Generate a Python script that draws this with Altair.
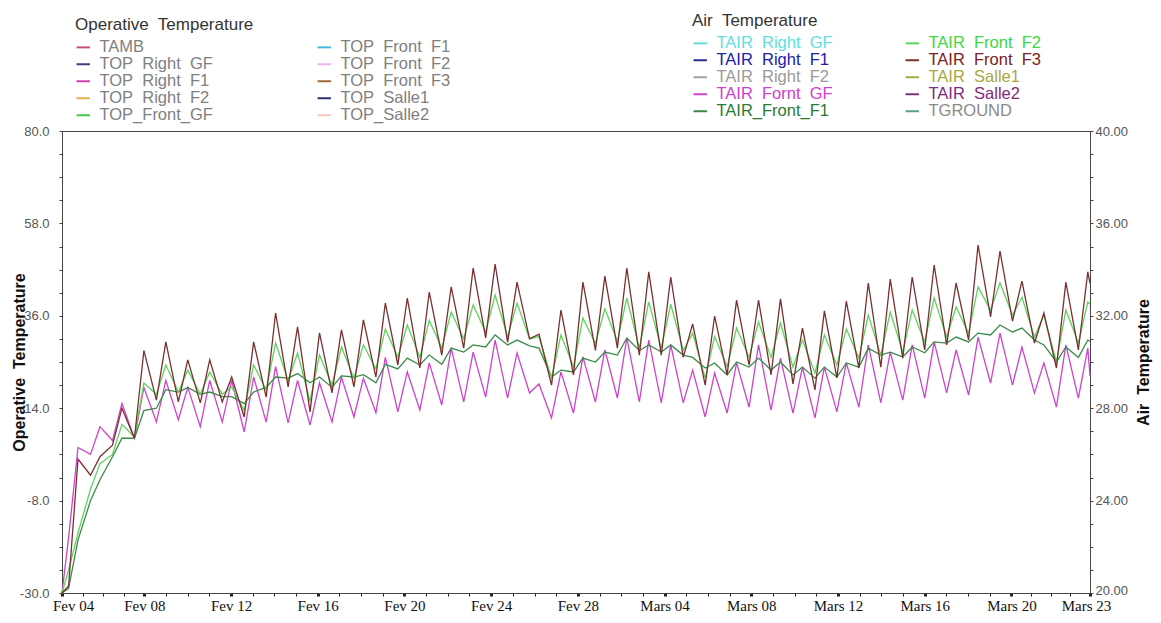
import json
import altair as alt
import pandas as pd

# ---------------- axis ticks / labels ----------------
x_end = 46.83
x_tick_days = [0, 3.75, 7.7, 11.65, 15.6, 19.55, 23.5, 27.45, 31.4, 35.35, 39.3, 43.25, 46.83]
x_tick_labels = ["Fev 04", "Fev 08", "Fev 12", "Fev 16", "Fev 20", "Fev 24", "Fev 28",
                 "Mars 04", "Mars 08", "Mars 12", "Mars 16", "Mars 20", "Mars 23"]
left_ticks = [-30.0, -24.5, -19.0, -13.5, -8.0, -2.5, 3.0, 8.5, 14.0, 19.5, 25.0, 30.5, 36.0,
              41.5, 47.0, 52.5, 58.0, 63.5, 69.0, 74.5, 80.0]
right_ticks = [20, 21, 22, 23, 24, 25, 26, 27, 28, 29, 30, 31, 32, 33, 34, 35, 36, 37, 38, 39, 40]

# minor x ticks: three between each pair of labelled ticks
x_all_ticks = []
for a, b in zip(x_tick_days[:-1], x_tick_days[1:]):
    for j in range(4):
        x_all_ticks.append(round(a + (b - a) * j / 4, 4))
x_all_ticks.append(x_tick_days[-1])

# ---------------- legend entries ----------------
op_names = ["TAMB", "TOP  Right  GF", "TOP  Right  F1", "TOP  Right  F2", "TOP_Front_GF",
            "TOP  Front  F1", "TOP  Front  F2", "TOP  Front  F3", "TOP  Salle1", "TOP_Salle2"]
op_colors = ["#c8506e", "#3c3c82", "#d040b0", "#e8b048", "#48c848",
             "#48b8d8", "#f0b0f0", "#a0683c", "#2c2c78", "#f6c8bc"]

air_names = ["TAIR  Right  GF", "TAIR  Right  F1", "TAIR  Right  F2", "TAIR  Fornt  GF", "TAIR_Front_F1",
             "TAIR  Front  F2", "TAIR  Front  F3", "TAIR  Salle1", "TAIR  Salle2", "TGROUND"]
air_colors = ["#60dede", "#2a2a9a", "#a0a0a0", "#cc44cc", "#3a8a4a",
              "#5fd35f", "#7a3030", "#a8a848", "#803080", "#58a090"]
air_label_colors = ["#5ee0e0", "#2020a8", "#9a9a9a", "#d040d0", "#2a7a34",
                    "#40d840", "#7a2020", "#a8a840", "#802a80", "#8a8a8a"]

# ---------------- series values (Air Temperature, daily trough / peak) ----------------
TROUGH_PHASE = 0.30
PEAK_PHASE = 0.73
start_value = 20.0

f3_trough = [20.3, 25.1, 26.4, 26.7, 28.35, 28.27, 28.23, 28.27, 27.62, 28.48, 28.92, 27.84, 28.66,
             28.92, 29.35, 29.87, 29.74, 30.3, 30.6, 31.04, 30.85, 31.0, 29.0, 29.44, 30.5, 30.6,
             30.3, 30.3, 30.2, 29.0, 29.44, 29.87, 29.44, 29.05, 28.79, 29.31, 29.74, 29.78, 30.17,
             30.52, 30.74, 30.95, 31.95, 31.77, 30.82, 29.74, 30.52]
f3_peak = [25.8, 25.9, 28.0, 30.5, 30.87, 30.09, 30.09, 29.35, 30.87, 32.12, 31.52, 31.26, 31.39,
           31.82, 32.55, 32.77, 33.03, 33.25, 34.07, 34.24, 33.46, 31.2, 32.25, 33.46, 33.72, 34.07,
           33.9, 33.68, 31.65, 31.99, 32.68, 32.68, 32.73, 31.47, 32.21, 32.64, 33.42, 33.59, 33.68,
           34.2, 33.42, 35.06, 34.8, 33.5, 32.12, 33.46, 33.9]
f3_end = 33.4

f2_trough = [21.0, 24.5, 26.0, 26.75, 28.6, 28.7, 28.6, 28.6, 27.9, 28.8, 29.2, 28.3, 29.0, 29.3,
             29.7, 30.2, 30.2, 30.6, 31.0, 31.3, 31.1, 31.0, 29.3, 29.8, 30.8, 30.9, 30.6, 30.6,
             30.5, 29.3, 29.8, 30.2, 30.2, 29.78, 29.52, 29.87, 30.17, 30.3, 30.43, 30.87, 31.08,
             31.25, 32.25, 32.03, 31.08, 30.0, 30.82]
f2_peak = [22.6, 25.6, 27.3, 29.09, 29.87, 29.65, 29.57, 28.92, 29.87, 30.82, 30.39, 30.3, 30.65,
           30.74, 31.43, 31.6, 31.8, 32.16, 32.47, 32.9, 32.55, 31.1, 31.17, 31.9, 32.3, 32.77, 32.6,
           32.5, 31.25, 31.1, 31.47, 31.73, 31.69, 30.95, 31.17, 31.43, 32.03, 32.16, 32.25, 32.77,
           32.38, 33.25, 33.42, 32.8, 32.03, 32.25, 32.6]
f2_end = 32.5

f1_trough = [20.2, 24.0, 25.9, 26.7, 28.0, 28.7, 28.6, 28.5, 28.2, 28.9, 29.3, 29.1, 28.9, 29.35,
             29.1, 29.7, 29.87, 29.9, 30.43, 30.65, 30.74, 30.7, 29.35, 29.57, 30.0, 30.3, 30.5,
             30.43, 30.3, 29.74, 29.44, 29.78, 29.65, 29.44, 29.3, 29.35, 29.78, 30.3, 30.22, 30.4,
             30.82, 30.87, 31.17, 31.3, 30.95, 30.0, 30.2]
f1_peak = [22.3, 24.9, 26.7, 27.9, 28.8, 28.9, 28.7, 28.5, 28.7, 29.35, 29.5, 29.35, 29.4, 29.45,
           29.9, 30.17, 30.3, 30.6, 30.74, 31.17, 30.95, 30.6, 29.65, 30.17, 30.43, 31.04, 30.74,
           30.74, 30.2, 29.96, 30.0, 30.17, 30.0, 29.78, 29.78, 29.96, 30.6, 30.43, 30.65, 30.87,
           31.08, 31.25, 31.6, 31.47, 30.74, 30.65, 30.95]
f1_end = 30.9

gf_trough = [22.4, 26.0, 26.6, 26.7, 27.4, 27.5, 27.2, 27.4, 26.97, 27.4, 27.36, 27.27, 27.4, 27.62,
             27.8, 27.84, 27.92, 28.14, 28.27, 28.48, 28.44, 28.66, 27.58, 27.79, 28.27, 28.44,
             28.27, 28.23, 28.23, 27.62, 27.79, 28.05, 27.92, 27.79, 27.58, 27.84, 28.05, 28.23,
             28.35, 28.44, 28.66, 28.57, 29.09, 29.0, 28.66, 28.05, 28.44]
gf_peak = [26.3, 27.2, 28.2, 28.9, 29.2, 28.9, 29.2, 29.2, 29.35, 29.8, 29.2, 29.1, 29.35, 29.3,
           30.2, 29.57, 29.96, 30.6, 30.43, 30.95, 30.39, 29.05, 29.57, 30.22, 30.52, 31.04, 30.95,
           30.74, 29.65, 29.52, 29.96, 30.74, 30.17, 29.78, 29.78, 29.96, 30.74, 30.43, 30.74,
           30.87, 30.52, 31.08, 31.25, 30.65, 29.96, 30.74, 30.6]
gf_end = 29.4


def nb(s):
    # keep the double spacing of the original labels visible in SVG
    return s.replace("  ", "\u00a0 ")


series_defs = [
    ("TAIR  Fornt  GF", gf_trough, gf_peak, gf_end),
    ("TAIR_Front_F1", f1_trough, f1_peak, f1_end),
    ("TAIR  Front  F2", f2_trough, f2_peak, f2_end),
    ("TAIR  Front  F3", f3_trough, f3_peak, f3_end),
]
rows = []
for name, tr, pk, end in series_defs:
    pts = [(0.0, start_value)]
    for k in range(len(tr)):
        pts.append((k + TROUGH_PHASE, tr[k]))
        pts.append((k + PEAK_PHASE, pk[k]))
    pts.append((x_end, end))
    for i, (t, v) in enumerate(pts):
        rows.append({"series": nb(name), "t": t, "v": v, "i": i})
air_df = pd.DataFrame(rows)

# legends are filled column by column (5 rows x 2 columns)
op_dom = [nb(n) for n in op_names]
air_dom = [nb(n) for n in air_names]

label_color_expr = (json.dumps(air_label_colors) + "[indexof(" + json.dumps(air_dom) + ", datum.value)]")

major_js = json.dumps(x_tick_days)
x_label_expr = ("indexof(" + major_js + ", datum.value) >= 0 ? "
                + json.dumps(x_tick_labels) + "[indexof(" + major_js + ", datum.value)] : ''")

FONT = "Liberation Sans"

x_axis = alt.Axis(
    values=x_all_ticks, labelExpr=x_label_expr, labelFont="Liberation Serif", labelFontSize=15,
    labelColor="#111111", labelPadding=2, labelFlush=False, labelOverlap=False,
    labelOffset=alt.ExprRef(expr="datum.value == 0 ? 11 : (datum.value > 46.5 ? -4 : 0)"),
    tickSize=3, tickColor="#222222",
    tickWidth=alt.ExprRef(expr="indexof(" + major_js + ", datum.value) >= 0 ? 3 : 1"),
    domainColor="#444444", grid=False, title="",
)
x_enc = alt.X("t:Q", scale=alt.Scale(domain=[0, x_end], nice=False, zero=False), axis=x_axis)

left_axis = alt.Axis(
    orient="left", values=left_ticks,
    labelExpr="(datum.value + 30) % 22 == 0 ? replace(format(datum.value, '.1f'), '\u2212', '-') : ''",
    labelFont=FONT, labelFontSize=13, labelColor="#555555", labelPadding=10,
    tickSize=3, tickColor="#444444", domainColor="#444444", grid=False,
    title="Operative\u00a0 Temperature", titleFont=FONT, titleFontSize=16, titleFontWeight="bold",
    titleColor="#111111", titleX=-35, titleY=231, titleAngle=270, titleBaseline="bottom",
    titleAlign="center",
)
right_axis = alt.Axis(
    orient="right", values=right_ticks,
    labelExpr="(datum.value - 20) % 4 == 0 ? format(datum.value, '.2f') : ''",
    labelOffset=alt.ExprRef(expr="datum.value == 20 ? -3 : 0"),
    labelFont=FONT, labelFontSize=13, labelColor="#555555", labelPadding=2,
    tickSize=3, tickColor="#444444", domainColor="#444444", grid=False,
    title="Air\u00a0 Temperature", titleFont=FONT, titleFontSize=16, titleFontWeight="bold",
    titleColor="#111111", titleX=61, titleY=231, titleAngle=270, titleBaseline="bottom",
    titleAlign="center",
)

legend_common = dict(
    orient="none", columns=2, rowPadding=0, symbolType="stroke", symbolSize=180,
    symbolStrokeWidth=2, labelFontSize=16.5, labelFont=FONT, labelOffset=8, labelLimit=400,
    titleFontSize=17, titleFont=FONT, titleFontWeight="normal", titleColor="#333333",
    titlePadding=5, padding=0,
)
op_legend = alt.Legend(title="Operative\u00a0 Temperature", legendX=13, legendY=-114,
                       columnPadding=100, labelColor="#808080", **legend_common)
air_legend = alt.Legend(title="Air\u00a0 Temperature", legendX=630, legendY=-118,
                        columnPadding=68, labelColor=alt.ExprRef(expr=label_color_expr),
                        **legend_common)

op_df = pd.DataFrame({"series": op_dom, "t": [None] * len(op_dom), "v": [None] * len(op_dom)})

op_layer = alt.Chart(op_df).mark_line(strokeWidth=1.3).encode(
    x=x_enc,
    y=alt.Y("v:Q", scale=alt.Scale(domain=[-30, 80], nice=False, zero=False), axis=left_axis),
    color=alt.Color("series:N", scale=alt.Scale(domain=op_dom, range=op_colors), legend=op_legend),
)

air_layer = alt.Chart(air_df).mark_line(strokeWidth=1.3).encode(
    x=x_enc,
    y=alt.Y("v:Q", scale=alt.Scale(domain=[20, 40], nice=False, zero=False), axis=right_axis),
    color=alt.Color("series:N", scale=alt.Scale(domain=air_dom, range=air_colors), legend=air_legend),
    order=alt.Order("i:Q"),
)

chart = alt.layer(op_layer, air_layer).resolve_scale(
    y="independent", color="independent"
).properties(
    width=1028, height=462,
    autosize=alt.AutoSizeParams(type="none"),
    padding={"left": 54, "top": 123, "right": 63, "bottom": 22},
    background="white",
).configure_view(stroke="#444444", strokeWidth=1)

chart.save("out.html", embed_options={"renderer": "svg", "actions": False})
